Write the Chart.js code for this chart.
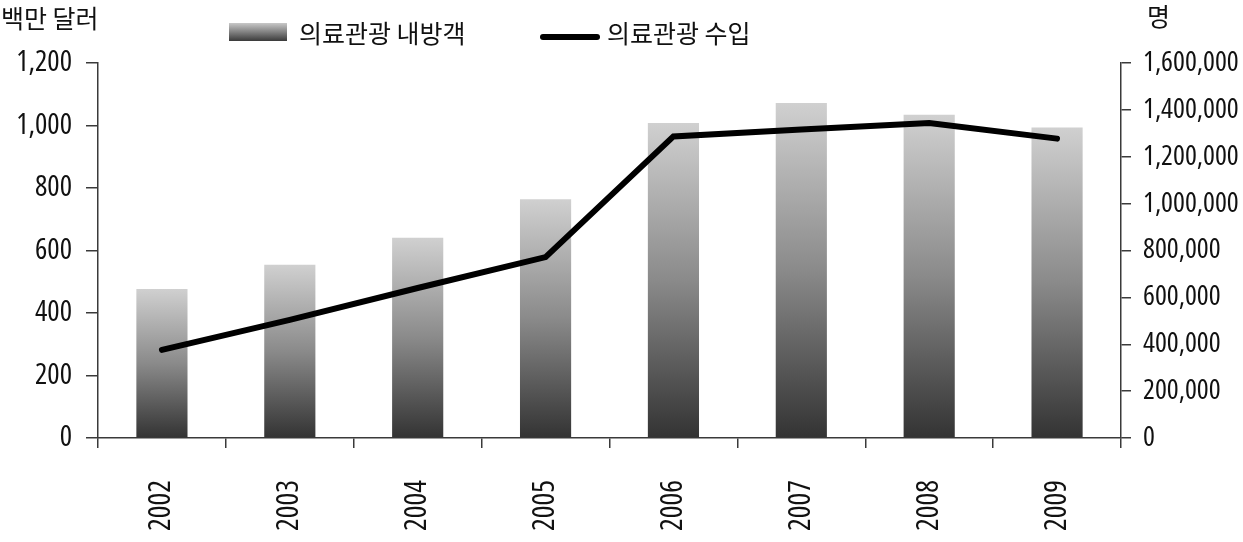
<!DOCTYPE html>
<html>
<head>
<meta charset="utf-8">
<script src="https://cdn.jsdelivr.net/npm/chart.js@4"></script>
<style>
html,body{margin:0;padding:0;background:#fff;}
#wrap{position:relative;width:1243px;height:542px;}
</style>
</head>
<body>
<div id="wrap"><canvas id="c" width="1243" height="542"></canvas></div>
<script>
const years = ['2002','2003','2004','2005','2006','2007','2008','2009'];
const visitors = [636000, 739000, 854000, 1019000, 1344000, 1429000, 1379000, 1325000];
const revenue = [282, 378, 480, 579, 965, 987, 1008, 958];
const leftTicks = [0, 200, 400, 600, 800, 1000, 1200];
const rightTicks = [0, 200000, 400000, 600000, 800000, 1000000, 1200000, 1400000, 1600000];
const barLabel = '의료관광 내방객';
const lineLabel = '의료관광 수입';
const leftTitle = '백만 달러';
const rightTitle = '명';

const KR_FONT = "'Noto Sans CJK KR', sans-serif";
const AXIS_COLOR = '#3a3a3a';

// pick the narrowest installed sans face for the numbers
const probe = document.createElement('canvas').getContext('2d');
const candidates = [
  { weight: 'normal', family: "'Liberation Sans Narrow'" },
  { weight: 'normal', family: "'Roboto Condensed'" },
  { weight: 'extra-condensed', family: "'Noto Sans'" },
  { weight: 'condensed', family: "'Noto Sans'" },
  { weight: 'condensed', family: "'Open Sans'" },
  { weight: 'condensed', family: "'DejaVu Sans'" },
  { weight: 'normal', family: "'Liberation Sans'" }
];
let best = null;
for (const c of candidates) {
  probe.font = c.weight + ' 27px ' + c.family + ', monospace';
  const w = probe.measureText('1,600,000').width;
  probe.font = c.weight + ' 27px monospace';
  const wm = probe.measureText('1,600,000').width;
  if (Math.abs(w - wm) < 0.01 && c.family.indexOf('Liberation Sans\'') < 0) continue;
  if (!best || w < best.w) best = { ...c, w };
}
const NUM_WEIGHT = best ? best.weight : 'normal';
const NUM_FAMILY = (best ? best.family : "'Liberation Sans'") + ", sans-serif";
// size so that "1,600,000" spans about 97px, within sensible limits
const NUM_SIZE = Math.max(20, Math.min(29, Math.round(27 * 97 / (best ? best.w : 120))));

function fmt(v){ return Number(v).toLocaleString('en-US'); }

function barGradient(ctx){
  const chart = ctx.chart;
  if (!chart.chartArea || ctx.type !== 'data') return '#888';
  const y1 = chart.scales.y1;
  const top = y1.getPixelForValue(ctx.raw);
  const bottom = y1.getPixelForValue(0);
  const g = chart.ctx.createLinearGradient(0, top, 0, bottom);
  g.addColorStop(0, '#d0d0d0');
  g.addColorStop(0.5, '#8a8a8a');
  g.addColorStop(1, '#333333');
  return g;
}

const decor = {
  id: 'decor',
  afterDraw(chart){
    const c = chart.ctx;
    c.save();
    c.fillStyle = '#111';
    c.font = "25px " + KR_FONT;
    c.textBaseline = 'middle';
    c.textAlign = 'left';
    c.fillText(leftTitle, 1, 18);
    c.fillText(rightTitle, 1147, 16);
    const g = c.createLinearGradient(0, 23, 0, 41);
    g.addColorStop(0, '#c8c8c8');
    g.addColorStop(1, '#3a3a3a');
    c.fillStyle = g;
    c.fillRect(229, 23, 58, 18);
    c.fillStyle = '#111';
    c.font = "25px " + KR_FONT;
    c.fillText(chart.data.datasets[1].label, 299, 33);
    c.strokeStyle = '#000';
    c.lineWidth = 6;
    c.lineCap = 'round';
    c.beginPath();
    c.moveTo(543, 37);
    c.lineTo(597, 37);
    c.stroke();
    c.fillText(chart.data.datasets[0].label, 607, 33);
    c.restore();
  }
};

const numFont = { family: NUM_FAMILY, size: NUM_SIZE, weight: NUM_WEIGHT };

new Chart(document.getElementById('c'), {
  type: 'bar',
  data: {
    labels: years,
    datasets: [
      {
        type: 'line',
        label: lineLabel,
        data: revenue,
        yAxisID: 'y',
        borderColor: '#000',
        borderWidth: 6,
        borderCapStyle: 'round',
        pointRadius: 0,
        tension: 0,
        fill: false,
        order: 0
      },
      {
        type: 'bar',
        label: barLabel,
        data: visitors,
        yAxisID: 'y1',
        backgroundColor: barGradient,
        borderWidth: 0,
        barPercentage: 0.4,
        categoryPercentage: 1.0,
        order: 1
      }
    ]
  },
  plugins: [decor],
  options: {
    responsive: false,
    animation: false,
    events: [],
    layout: { padding: { top: 63, left: 0, right: 0, bottom: 0 } },
    plugins: { legend: { display: false }, tooltip: { enabled: false }, title: { display: false } },
    scales: {
      x: {
        offset: true,
        grid: { display: true, drawOnChartArea: false, offset: true, color: AXIS_COLOR, tickLength: 10, lineWidth: 1.5 },
        border: { color: AXIS_COLOR, width: 1.5 },
        ticks: { color: '#111', font: { ...numFont, size: NUM_SIZE + 2 }, minRotation: 90, maxRotation: 90, padding: 32, autoSkip: false },
        afterFit(s){ s.height = 104; }
      },
      y: {
        position: 'left',
        min: 0, max: 1200,
        afterBuildTicks(s){ s.ticks = leftTicks.map(v => ({ value: v })); },
        grid: { display: true, drawOnChartArea: false, color: AXIS_COLOR, tickLength: 12, lineWidth: 1.5 },
        border: { color: AXIS_COLOR, width: 1.5 },
        ticks: { color: '#111', font: { ...numFont, size: NUM_SIZE + 1 }, padding: 14, callback: v => fmt(v) },
        afterFit(s){ s.width = 98; }
      },
      y1: {
        position: 'right',
        min: 0, max: 1600000,
        afterBuildTicks(s){ s.ticks = rightTicks.map(v => ({ value: v })); },
        grid: { display: true, drawOnChartArea: false, color: AXIS_COLOR, tickLength: 10, lineWidth: 1.5 },
        border: { color: AXIS_COLOR, width: 1.5 },
        ticks: { color: '#111', font: numFont, padding: 12, callback: v => fmt(v) },
        afterFit(s){ s.width = 122; }
      }
    }
  }
});
</script>
</body>
</html>
